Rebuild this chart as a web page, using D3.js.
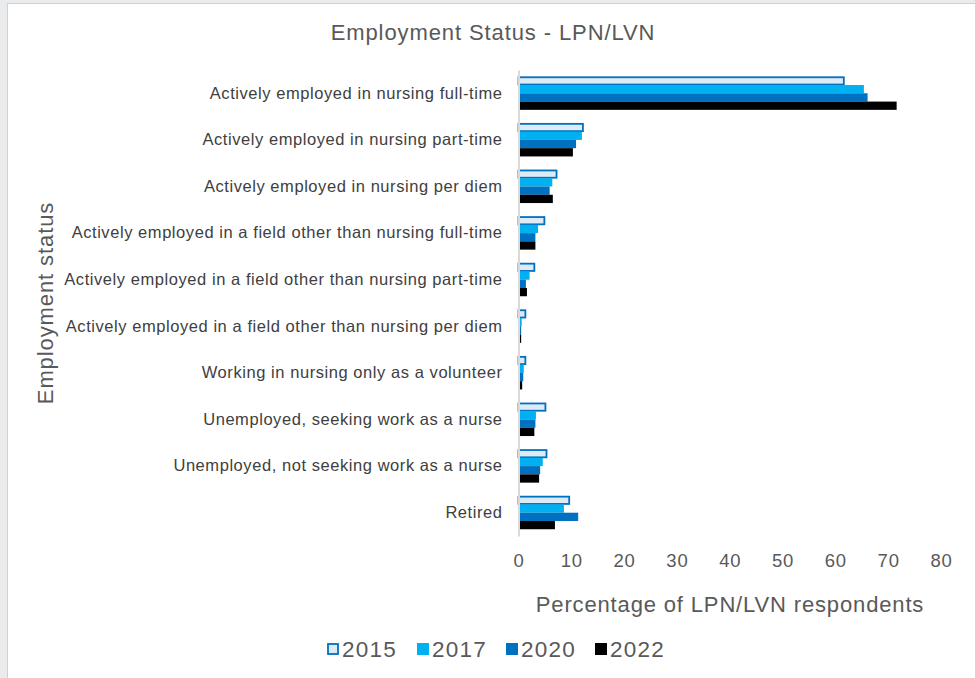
<!DOCTYPE html>
<html>
<head>
<meta charset="utf-8">
<script src="https://cdn.jsdelivr.net/npm/d3@7"></script>
<style>
  body { margin: 0; background: #e9ebec; }
  svg { display: block; font-family: "Liberation Sans", Arial, sans-serif; }
</style>
</head>
<body>
<div id="chart"></div>
<script>
const categories = [
  'Actively employed in nursing full-time',
  'Actively employed in nursing part-time',
  'Actively employed in nursing per diem',
  'Actively employed in a field other than nursing full-time',
  'Actively employed in a field other than nursing part-time',
  'Actively employed in a field other than nursing per diem',
  'Working in nursing only as a volunteer',
  'Unemployed, seeking work as a nurse',
  'Unemployed, not seeking work as a nurse',
  'Retired'
];
const years = ['2015', '2017', '2020', '2022'];
const values2015 = [61.6, 12.2, 7.2, 4.9, 3.0, 1.3, 1.3, 5.1, 5.3, 9.6];
const values2017 = [65.4, 12.0, 6.4, 3.7, 2.1, 0.6, 1.0, 3.3, 4.6, 8.6];
const values2020 = [66.1, 10.9, 5.9, 3.2, 1.4, 0.5, 0.9, 3.2, 4.1, 11.3];
const values2022 = [71.6, 10.3, 6.5, 3.2, 1.6, 0.5, 0.7, 3.0, 3.9, 6.9];
const xTicks = [0, 10, 20, 30, 40, 50, 60, 70, 80];

const seriesValues = [values2015, values2017, values2020, values2022];
const fills = ['#deebf7', '#00b0f0', '#0070c0', '#000000'];

const width = 975;
const height = 678;

const svg = d3.select('#chart')
  .append('svg')
  .attr('width', width)
  .attr('height', height);

// white chart area with thin border
svg.append('rect')
  .attr('x', 7.5)
  .attr('y', 3.5)
  .attr('width', width - 7)
  .attr('height', height)
  .attr('fill', '#ffffff')
  .attr('stroke', '#d0d0d0');

const xScale = d3.scaleLinear()
  .domain([0, 80])
  .range([518.5, 941]);

const yScale = d3.scaleBand()
  .domain(categories)
  .range([70, 536])
  .paddingInner(0.29)
  .paddingOuter(0.145);

const ySub = d3.scaleBand()
  .domain(years)
  .range([0, yScale.bandwidth()]);

// title
svg.append('text')
  .attr('x', 493)
  .attr('y', 40)
  .attr('text-anchor', 'middle')
  .attr('font-size', 22)
  .attr('letter-spacing', 0.9)
  .attr('fill', '#595959')
  .text('Employment Status - LPN/LVN');

// bars
const rows = categories.map((c, i) => ({ cat: c, vals: seriesValues.map(s => s[i]) }));
const groups = svg.append('g')
  .selectAll('g')
  .data(rows)
  .join('g')
  .attr('transform', d => `translate(0, ${yScale(d.cat)})`);

groups.selectAll('rect')
  .data(d => d.vals.map((v, j) => ({ year: years[j], v, j })))
  .join('rect')
  .attr('x', xScale(0))
  .attr('y', d => ySub(d.year) + (d.j === 0 ? 0.5 : 0))
  .attr('width', d => Math.max(0, xScale(d.v) - xScale(0)))
  .attr('height', d => ySub.bandwidth() - (d.j === 0 ? 1 : 0))
  .attr('fill', d => fills[d.j])
  .attr('stroke', d => d.j === 0 ? '#0070c0' : 'none')
  .attr('stroke-width', 1.8);

// y axis line and labels
const yAxis = d3.axisLeft(yScale).tickSize(0).tickPadding(16);
const yG = svg.append('g')
  .attr('transform', `translate(${xScale(0)}, 0)`)
  .call(yAxis);
yG.select('.domain').attr('stroke', '#d9d9d9').attr('stroke-width', 2);
yG.selectAll('text')
  .attr('font-size', 16.5)
  .attr('letter-spacing', 0.56)
  .attr('fill', '#404040')
  .attr('font-family', '"Liberation Sans", Arial, sans-serif');

// x axis labels (no line)
const xAxis = d3.axisBottom(xScale).tickValues(xTicks).tickSize(0).tickPadding(0);
const xG = svg.append('g')
  .attr('transform', 'translate(0, 554)')
  .call(xAxis);
xG.select('.domain').remove();
xG.selectAll('text')
  .attr('font-size', 18.5)
  .attr('letter-spacing', 0.8)
  .attr('fill', '#595959')
  .attr('font-family', '"Liberation Sans", Arial, sans-serif');

// axis titles
svg.append('text')
  .attr('x', 730)
  .attr('y', 612)
  .attr('text-anchor', 'middle')
  .attr('font-size', 22)
  .attr('letter-spacing', 0.85)
  .attr('fill', '#595959')
  .text('Percentage of LPN/LVN respondents');

svg.append('text')
  .attr('transform', 'translate(53, 303) rotate(-90)')
  .attr('text-anchor', 'middle')
  .attr('font-size', 22)
  .attr('letter-spacing', 0.9)
  .attr('fill', '#595959')
  .text('Employment status');

// legend
const legendX = [327, 417, 506, 595];
const legend = svg.append('g')
  .selectAll('g')
  .data(years)
  .join('g')
  .attr('transform', (d, i) => `translate(${legendX[i]}, 643)`);

legend.append('rect')
  .attr('x', (d, i) => i === 0 ? 1 : 0)
  .attr('y', (d, i) => i === 0 ? 1 : 0)
  .attr('width', (d, i) => i === 0 ? 10 : 12)
  .attr('height', (d, i) => i === 0 ? 10 : 12)
  .attr('fill', (d, i) => fills[i])
  .attr('stroke', (d, i) => i === 0 ? '#0070c0' : 'none')
  .attr('stroke-width', 1.8);

legend.append('text')
  .attr('x', 15)
  .attr('y', 14)
  .attr('font-size', 22.5)
  .attr('letter-spacing', 1.2)
  .attr('fill', '#595959')
  .text(d => d);
</script>
</body>
</html>
